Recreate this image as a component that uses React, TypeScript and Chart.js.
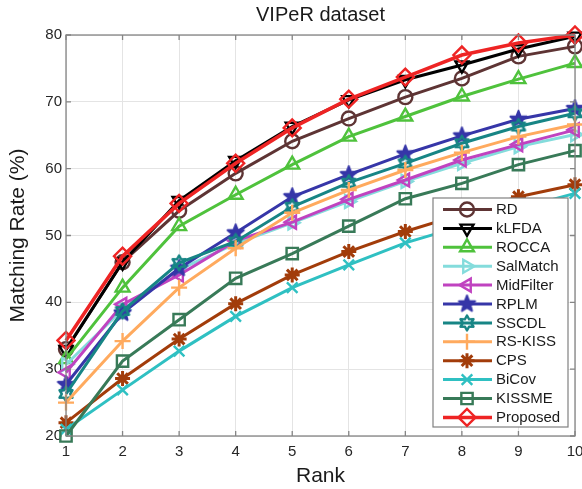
import React, { useEffect, useRef } from 'react';
import { Chart, registerables } from 'chart.js';

Chart.register(...registerables);

const ranks = ['1', '2', '3', '4', '5', '6', '7', '8', '9', '10'];
const yTickStep = 10;
const yMin = 20;
const yMax = 80;

const rd = [33.0, 46.0, 53.7, 59.3, 64.1, 67.5, 70.7, 73.5, 76.8, 78.3];
const klfda = [32.9, 46.0, 55.2, 61.2, 66.3, 70.3, 73.3, 75.5, 77.9, 79.8];
const rocca = [31.5, 42.2, 51.4, 56.1, 60.6, 64.8, 67.8, 70.8, 73.4, 75.8];
const salMatch = [30.7, 38.9, 44.9, 48.8, 51.9, 55.1, 58.1, 60.8, 63.3, 65.1];
const midFilter = [29.5, 39.7, 44.1, 49.2, 52.0, 55.4, 58.3, 61.3, 63.6, 65.8];
const rplm = [27.7, 38.4, 45.1, 50.4, 55.8, 59.1, 62.2, 64.9, 67.4, 69.0];
const sscdl = [26.3, 38.7, 45.9, 49.1, 54.3, 57.9, 60.8, 63.8, 66.3, 68.3];
const rsKiss = [25.0, 34.2, 42.2, 48.1, 53.4, 56.8, 59.8, 62.4, 64.8, 66.6];
const cps = [22.0, 28.6, 34.5, 39.8, 44.1, 47.6, 50.6, 53.2, 55.8, 57.6];
const biCov = [21.0, 26.9, 32.7, 37.9, 42.2, 45.6, 48.9, 51.4, 54.0, 56.3];
const kissme = [20.0, 31.2, 37.4, 43.6, 47.3, 51.4, 55.5, 57.8, 60.6, 62.7];
const proposed = [34.3, 46.9, 54.8, 60.8, 66.1, 70.4, 73.7, 77.0, 78.8, 80.0];

const seriesNames = ['RD', 'kLFDA', 'ROCCA', 'SalMatch', 'MidFilter', 'RPLM', 'SSCDL', 'RS-KISS', 'CPS', 'BiCov', 'KISSME', 'Proposed'];
const seriesValues = [rd, klfda, rocca, salMatch, midFilter, rplm, sscdl, rsKiss, cps, biCov, kissme, proposed];

const titleText = 'VIPeR dataset';
const xTitle = 'Rank';
const yTitle = 'Matching Rate (%)';

const FONT = "'Liberation Sans', Arial, Helvetica, sans-serif";

function makeStar(n: number, outer: number, inner: number, color: string, lw: number, fill: string | null) {
  const pad = lw + 1;
  const size = Math.ceil(2 * (outer + pad));
  const c = document.createElement('canvas');
  c.width = size;
  c.height = size;
  const ctx = c.getContext('2d') as CanvasRenderingContext2D;
  const cx = size / 2;
  const cy = size / 2;
  ctx.beginPath();
  for (let i = 0; i < 2 * n; i++) {
    const r = i % 2 === 0 ? outer : inner;
    const a = -Math.PI / 2 + (i * Math.PI) / n;
    const x = cx + r * Math.cos(a);
    const y = cy + r * Math.sin(a);
    if (i === 0) ctx.moveTo(x, y);
    else ctx.lineTo(x, y);
  }
  ctx.closePath();
  ctx.lineJoin = 'round';
  if (fill) {
    ctx.fillStyle = fill;
    ctx.fill();
  }
  ctx.lineWidth = lw;
  ctx.strokeStyle = color;
  ctx.stroke();
  return c;
}

type Style = {
  color: string;
  point: any;
  radius: number;
  rotation?: number;
  lw?: number;
  pbw?: number;
};

function buildStyles(): Style[] {
  return [
    { color: '#5e3434', point: 'circle', radius: 7 },
    { color: '#000000', point: 'triangle', radius: 7.5, rotation: 180 },
    { color: '#4fc23c', point: 'triangle', radius: 8 },
    { color: '#84dcdc', point: 'triangle', radius: 7.5, rotation: 90 },
    { color: '#c043c0', point: 'triangle', radius: 7.5, rotation: 270 },
    { color: '#3636a8', point: makeStar(5, 8.5, 3.6, '#3636a8', 2, '#3636a8'), radius: 8 },
    { color: '#178585', point: makeStar(6, 7.5, 4.2, '#178585', 2.4, null), radius: 7 },
    { color: '#ffaa5e', point: 'cross', radius: 8 },
    { color: '#a23c0a', point: 'star', radius: 7.5, pbw: 3 },
    { color: '#2fc0c2', point: 'crossRot', radius: 7.5 },
    { color: '#387a58', point: 'rect', radius: 8 },
    { color: '#ee2424', point: 'rectRot', radius: 8.5, lw: 3.5 },
  ];
}

const framePlugin = {
  id: 'frameAndLegend',
  afterDatasetsDraw(chart: any) {
    const ctx = chart.ctx as CanvasRenderingContext2D;
    const { left, right, top, bottom } = chart.chartArea;
    ctx.save();
    ctx.strokeStyle = '#858585';
    ctx.lineWidth = 1.3;
    ctx.strokeRect(left, top, right - left, bottom - top);
    const xs = chart.scales.x;
    const ys = chart.scales.y;
    ctx.beginPath();
    xs.ticks.forEach((_t: any, i: number) => {
      const px = xs.getPixelForTick(i);
      ctx.moveTo(px, bottom);
      ctx.lineTo(px, bottom - 5);
      ctx.moveTo(px, top);
      ctx.lineTo(px, top + 5);
    });
    ys.ticks.forEach((_t: any, i: number) => {
      const py = ys.getPixelForTick(i);
      ctx.moveTo(left, py);
      ctx.lineTo(left + 5, py);
      ctx.moveTo(right, py);
      ctx.lineTo(right - 5, py);
    });
    ctx.stroke();

    // legend
    const lx = right - 142;
    const ly = bottom - 238;
    const lw = 135;
    const lh = 229;
    ctx.fillStyle = '#ffffff';
    ctx.fillRect(lx, ly, lw, lh);
    ctx.strokeStyle = '#808080';
    ctx.lineWidth = 1.2;
    ctx.strokeRect(lx, ly, lw, lh);
    const step = 18.9;
    const y0 = ly + 11.5;
    chart.data.datasets.forEach((ds: any, i: number) => {
      const y = y0 + i * step;
      ctx.save();
      ctx.strokeStyle = ds.borderColor;
      ctx.lineWidth = ds.borderWidth;
      ctx.beginPath();
      ctx.moveTo(lx + 10, y);
      ctx.lineTo(lx + 59, y);
      ctx.stroke();
      const meta = chart.getDatasetMeta(i);
      const el = meta.data[0];
      if (el) {
        const sx = el.x;
        const sy = el.y;
        el.x = lx + 34;
        el.y = y;
        el.draw(ctx);
        el.x = sx;
        el.y = sy;
      }
      ctx.restore();
      ctx.fillStyle = '#1a1a1a';
      ctx.font = `15px ${FONT}`;
      ctx.textBaseline = 'middle';
      ctx.textAlign = 'left';
      ctx.fillText(ds.label, lx + 63, y + 0.5);
    });

    // title
    ctx.fillStyle = '#1a1a1a';
    ctx.font = `20px ${FONT}`;
    ctx.textAlign = 'center';
    ctx.textBaseline = 'middle';
    ctx.fillText(titleText, (left + right) / 2, 15);
    ctx.restore();
  },
};

export default function App() {
  const ref = useRef<HTMLCanvasElement | null>(null);

  useEffect(() => {
    if (!ref.current) return;
    const styles = buildStyles();
    const n = seriesNames.length;
    const datasets = seriesNames.map((name, i) => {
      const s = styles[i];
      return {
        label: name,
        data: seriesValues[i],
        borderColor: s.color,
        borderWidth: s.lw ?? 3,
        pointStyle: s.point,
        pointRadius: s.radius,
        pointRotation: s.rotation ?? 0,
        pointBorderColor: s.color,
        pointBorderWidth: s.pbw ?? 2.4,
        pointBackgroundColor: 'rgba(0,0,0,0)',
        tension: 0,
        clip: false as any,
        order: n - i,
      };
    });

    const chart = new Chart(ref.current, {
      type: 'line',
      data: { labels: ranks, datasets },
      options: {
        responsive: false,
        animation: false,
        devicePixelRatio: 1,
        layout: { padding: { left: 0, right: 25, top: 35, bottom: 0 } },
        plugins: {
          legend: { display: false },
          tooltip: { enabled: false },
          title: { display: false },
        },
        scales: {
          x: {
            type: 'category',
            offset: false,
            grid: { color: '#e4e4e4', drawTicks: false, lineWidth: 1 },
            border: { display: false },
            ticks: {
              font: { family: FONT, size: 15 },
              color: '#262626',
              padding: 7,
              maxRotation: 0,
              autoSkip: false,
            },
            title: {
              display: true,
              text: xTitle,
              font: { family: FONT, size: 21 },
              color: '#1a1a1a',
              padding: { top: 0, bottom: 0 },
            },
            afterFit: (s: any) => {
              s.height = 53;
            },
          },
          y: {
            min: yMin,
            max: yMax,
            grid: { color: '#e4e4e4', drawTicks: false, lineWidth: 1 },
            border: { display: false },
            ticks: {
              stepSize: yTickStep,
              font: { family: FONT, size: 15 },
              color: '#262626',
              padding: 4,
            },
            title: {
              display: true,
              text: yTitle,
              font: { family: FONT, size: 21 },
              color: '#1a1a1a',
              padding: { top: 6, bottom: 0 },
            },
            afterFit: (s: any) => {
              s.width = 66;
            },
          },
        },
      },
      plugins: [framePlugin],
    });
    return () => chart.destroy();
  }, []);

  return (
    <div
      style={{
        position: 'fixed',
        left: 0,
        top: 0,
        width: 582,
        height: 489,
        overflow: 'hidden',
        background: '#ffffff',
      }}
    >
      <canvas ref={ref} width={600} height={489} style={{ display: 'block' }} />
    </div>
  );
}
